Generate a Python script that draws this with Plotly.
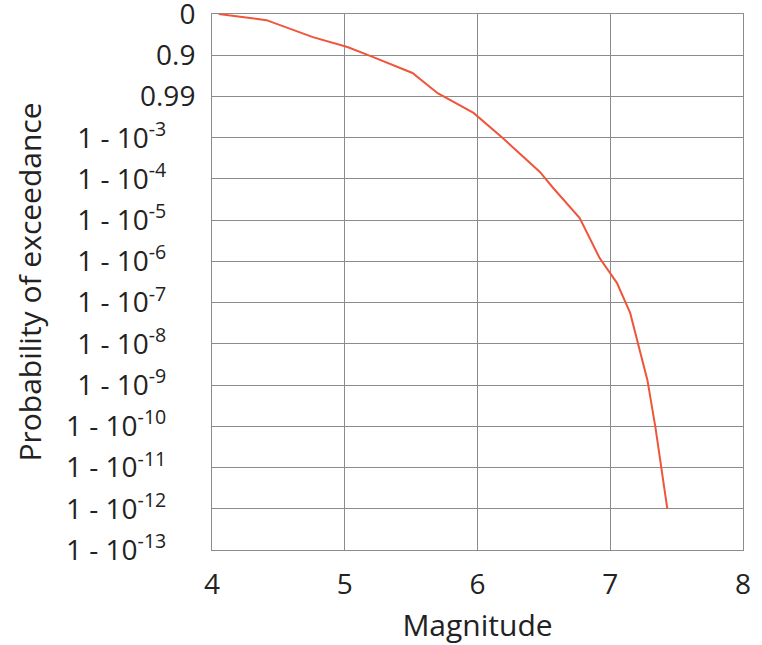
import plotly.graph_objects as go

# Cumulative magnitude distribution, shown on a -log10(1 - F) scale
magnitude = [4.05, 4.41, 4.76, 5.02, 5.21, 5.51, 5.70, 5.97, 6.19, 6.47,
             6.57, 6.77, 6.92, 7.05, 7.15, 7.22, 7.28, 7.34, 7.39, 7.43]
decades = [0.00, 0.15, 0.56, 0.80, 1.04, 1.43, 1.92, 2.40, 3.01, 3.83,
           4.22, 4.95, 5.92, 6.52, 7.25, 8.15, 8.88, 10.02, 11.13, 12.00]

y_tickvals = [0, 1, 2, 3, 4, 5, 6, 7, 8, 9, 10, 11, 12, 13]
y_ticktext = ["0", "0.9", "0.99",
              "1 - 10<sup>-3</sup>", "1 - 10<sup>-4</sup>", "1 - 10<sup>-5</sup>",
              "1 - 10<sup>-6</sup>", "1 - 10<sup>-7</sup>", "1 - 10<sup>-8</sup>",
              "1 - 10<sup>-9</sup>", "1 - 10<sup>-10</sup>", "1 - 10<sup>-11</sup>",
              "1 - 10<sup>-12</sup>", "1 - 10<sup>-13</sup>"]
x_tickvals = [4, 5, 6, 7, 8]

# labels carrying an exponent sit a little further from the axis
pad = "\u00a0" * 4
y_labels = [t + pad if "<sup>" in t else t for t in y_ticktext]

fig = go.Figure()
fig.add_trace(go.Scatter(
    x=magnitude, y=decades, mode="lines",
    line=dict(color="#EF553B", width=2),
    showlegend=False,
))

grid = "#8c8c8c"
hidden_tick = "rgba(0,0,0,0)"
fig.update_layout(
    width=762, height=645,
    margin=dict(l=212, r=19, t=14, b=95, autoexpand=False),
    paper_bgcolor="white", plot_bgcolor="white",
    font=dict(family="Open Sans", size=28, color="#222"),
    xaxis=dict(
        title=dict(text="Magnitude", font=dict(size=30), standoff=14),
        range=[4, 8], tickvals=x_tickvals,
        showgrid=True, gridcolor=grid, gridwidth=1,
        zeroline=False,
        showline=True, mirror=True, linecolor=grid, linewidth=1,
        ticks="outside", ticklen=9, tickcolor=hidden_tick,
        ticklabeloverflow="allow", automargin=False,
    ),
    yaxis=dict(
        title=dict(text="Probability of exceedance", font=dict(size=30)),
        range=[13, 0], tickvals=y_tickvals, ticktext=y_labels,
        showgrid=True, gridcolor=grid, gridwidth=1,
        zeroline=False,
        showline=True, mirror=True, linecolor=grid, linewidth=1,
        ticks="outside", ticklen=10, tickcolor=hidden_tick,
        ticklabeloverflow="allow", automargin=False,
    ),
)

fig.write_html("out.html")
